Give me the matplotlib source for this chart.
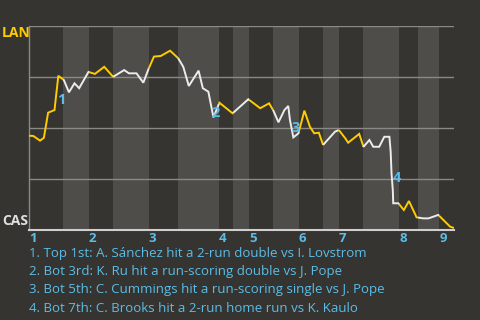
import matplotlib
matplotlib.use("Agg")
import matplotlib.pyplot as plt
import numpy as np

# ---- data (x = game progress 0..100, wp = LAN win probability %) ----
play_x = [0, 1.0, 2.6, 3.5, 4.5, 6.0, 6.9, 8.2, 9.4, 10.7, 11.8, 14.0, 15.5, 17.7, 19.8,
          22.4, 23.5, 25.3, 26.9, 28.1, 29.4, 31.0, 33.2, 35.1, 36.3, 37.6, 39.9, 40.9,
          42.2, 43.4, 44.8, 47.9, 51.6, 54.4, 56.5, 57.5, 58.7, 60.1, 61.0, 61.4, 62.2,
          63.4, 64.8, 66.1, 67.1, 68.2, 69.2, 72.0, 72.9, 74.4, 75.1, 77.7, 78.7, 80.1,
          81.0, 82.4, 83.6, 84.8, 85.1, 85.3, 85.6, 85.7, 86.9, 88.2, 89.4, 91.2, 92.8,
          94.0, 96.3, 99.1, 100]
play_wp = [46.2, 46.1, 43.8, 45.2, 57.5, 58.8, 75.6, 73.5, 67.5, 71.9, 69.5, 77.5, 76.5,
           80.0, 75.1, 78.4, 76.8, 76.8, 72.2, 78.8, 85.0, 85.3, 87.9, 84.2, 80.0, 70.6,
           78.1, 69.5, 67.8, 55.2, 62.4, 57.2, 64.1, 59.7, 62.1, 58.5, 52.8, 58.8, 60.8,
           53.9, 45.4, 47.4, 58.5, 50.6, 47.4, 47.7, 41.7, 48.2, 49.0, 45.0, 42.8, 47.1,
           40.8, 44.1, 40.8, 40.8, 45.7, 45.7, 38.4, 27.8, 19.6, 13.1, 13.1, 9.8, 14.2,
           6.2, 5.7, 5.7, 7.4, 1.6, 1.0]

# half-inning boundaries (top 1st, bot 1st, top 2nd, ...)
half_bounds = [0, 8.0, 14.1, 19.8, 28.2, 35.1, 44.7, 48.0, 51.8, 57.4, 63.5, 69.2,
               72.9, 78.6, 87.1, 91.5, 96.5, 100]
inning_labels = ["1", "2", "3", "4", "5", "6", "7", "8", "9"]

event_ids = ["1", "2", "3", "4"]
event_x = [7.5, 44.0, 62.8, 86.5]
event_wp = [63.7, 57.5, 49.9, 25.3]
event_text = [
    "1. Top 1st: A. Sánchez hit a 2-run double vs I. Lovstrom",
    "2. Bot 3rd: K. Ru hit a run-scoring double vs J. Pope",
    "3. Bot 5th: C. Cummings hit a run-scoring single vs J. Pope",
    "4. Bot 7th: C. Brooks hit a 2-run home run vs K. Kaulo",
]
away_team, home_team = "LAN", "CAS"

# ---- style ----
BG = "#363430"
BAND = "#4f4d4a"
GRID = "#8a8986"
YEL = "#ffcc00"
WHT = "#ececec"
BLUE = "#5bbde8"
plt.rcParams['font.family'] = ['Open Sans', 'DejaVu Sans']

fig = plt.figure(figsize=(4.8, 3.2), dpi=100, facecolor=BG)
ax = fig.add_axes([29/480, 1-230/320, 425/480, 204/320])
ax.set_facecolor(BG)
ax.set_xlim(0, 100)
ax.set_ylim(0, 100)

# bands for bottom halves
for i in range(len(half_bounds) - 1):
    if i % 2 == 1:
        ax.axvspan(half_bounds[i], half_bounds[i+1], color=BAND, lw=0, zorder=0)

for g in [25, 50, 75, 100]:
    ax.axhline(g, color=GRID, lw=1.0, zorder=1)

# line split by half-inning
px = np.array(play_x, float)
py = np.array(play_wp, float)
for i in range(len(half_bounds) - 1):
    a, b = half_bounds[i], half_bounds[i+1]
    mask = (px > a) & (px < b)
    xs = np.concatenate([[a], px[mask], [b]])
    ys = np.concatenate([[np.interp(a, px, py)], py[mask], [np.interp(b, px, py)]])
    ax.plot(xs, ys, color=YEL if i % 2 == 0 else WHT, lw=1.4, zorder=3,
            solid_joinstyle='miter', solid_capstyle='butt')

for eid, ex, ey in zip(event_ids, event_x, event_wp):
    ax.text(ex, ey, eid, color=BLUE, fontsize=10.5, fontweight='bold',
            ha='center', va='center', zorder=4)

for s in ['top', 'right']:
    ax.spines[s].set_visible(False)
ax.spines['left'].set_color(GRID)
ax.spines['left'].set_linewidth(1.0)
ax.spines['bottom'].set_color("#cfcfcf")
ax.spines['bottom'].set_linewidth(1.5)
ax.set_xticks([])
ax.set_yticks([])

# inning labels
for k, lab in enumerate(inning_labels):
    x_fig = (29 + half_bounds[2*k] * 4.25) / 480
    fig.text(x_fig, 1 - 239/320, lab, color=BLUE, fontsize=9.5, fontweight='bold',
             ha='left', va='center')

fig.text(2/480, 1-33/320, away_team, color=YEL, fontsize=10, fontweight='bold',
         ha='left', va='center')
fig.text(2/480, 1-221/320, home_team, color="#e0e0e0", fontsize=10, fontweight='bold',
         ha='left', va='center')

for k, t in enumerate(event_text):
    fig.text(29/480, 1-(254 + 18*k)/320, t, color=BLUE, fontsize=9.5,
             ha='left', va='center')

fig.savefig("out.png", dpi=100, facecolor=BG)
